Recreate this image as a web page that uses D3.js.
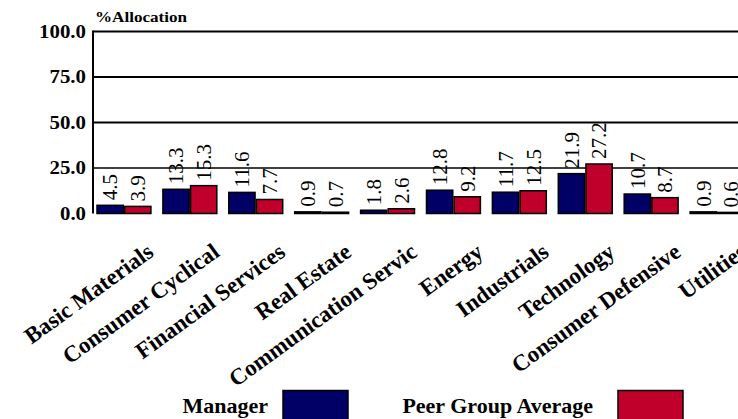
<!DOCTYPE html>
<html>
<head>
<meta charset="utf-8">
<script src="https://cdn.jsdelivr.net/npm/d3@7"></script>
<style>
  html, body { margin: 0; padding: 0; background: #fff; overflow: hidden; }
  svg { display: block; }
  text { font-family: "Liberation Serif", "DejaVu Serif", serif; fill: #000; }
</style>
</head>
<body>
<svg id="chart" width="738" height="419"></svg>
<script>
const categories = ["Basic Materials", "Consumer Cyclical", "Financial Services", "Real Estate",
  "Communication Services", "Energy", "Industrials", "Technology", "Consumer Defensive", "Utilities"];
const managerValues = [4.5, 13.3, 11.6, 0.9, 1.8, 12.8, 11.7, 21.9, 10.7, 0.9];
const peerValues = [3.9, 15.3, 7.7, 0.7, 2.6, 9.2, 12.5, 27.2, 8.7, 0.6];
const yTicks = [0, 25, 50, 75, 100];
const seriesNames = ["Manager", "Peer Group Average"];
const colors = ["#000066", "#c0002a"];

(function () {
const svg = d3.select("#chart");
const plotLeft = 93, plotTop = 31.5, plotBottom = 213.5;

const x0 = d3.scaleBand().domain(categories).range([91, 750]).paddingInner(0.14).paddingOuter(0.07);
const x1 = d3.scaleBand().domain(seriesNames).range([0, x0.bandwidth()]).padding(0.05);
const y = d3.scaleLinear().domain([0, 100]).range([plotBottom, plotTop]);

// gridlines
svg.append("g").selectAll("line").data(yTicks.filter(d => d > 0)).join("line")
  .attr("x1", plotLeft).attr("x2", 738)
  .attr("y1", d => y(d)).attr("y2", d => y(d))
  .attr("stroke", "#000").attr("stroke-width", d => d === 25 ? 1.5 : 2);

// left axis line
svg.append("line").attr("x1", plotLeft).attr("x2", plotLeft).attr("y1", y(100) - 1).attr("y2", plotBottom)
  .attr("stroke", "#000").attr("stroke-width", 2);

// y tick labels (condensed bold)
svg.append("g").selectAll("text").data(yTicks).join("text")
  .attr("x", 86).attr("y", d => y(d)).attr("dy", "0.36em")
  .attr("text-anchor", "end").attr("font-weight", "bold").attr("font-size", 18)
  .attr("textLength", d => {
    const s = d.toFixed(1);
    const digits = s.replace(".", "").length;
    return 10.5 * digits + 5;
  })
  .attr("lengthAdjust", "spacingAndGlyphs")
  .text(d => d.toFixed(1));

// axis title
svg.append("text").attr("x", 95).attr("y", 22).attr("font-weight", "bold").attr("font-size", 14)
  .attr("textLength", 92).attr("lengthAdjust", "spacingAndGlyphs").text("%Allocation");

// bars
const rows = categories.map((c, i) => ({ c, vals: [managerValues[i], peerValues[i]] }));
const groups = svg.append("g").selectAll("g").data(rows).join("g")
  .attr("transform", d => `translate(${x0(d.c)},0)`);

groups.selectAll("rect").data(d => d.vals.map((v, j) => ({ v, s: seriesNames[j], j }))).join("rect")
  .attr("x", d => x1(d.s)).attr("width", x1.bandwidth())
  .attr("y", d => y(d.v)).attr("height", d => plotBottom - y(d.v))
  .attr("fill", d => colors[d.j]).attr("stroke", "#000").attr("stroke-width", 1.5);

groups.selectAll("text.val").data(d => d.vals.map((v, j) => ({ v, s: seriesNames[j], j }))).join("text")
  .attr("class", "val")
  .attr("transform", d => `translate(${x1(d.s) + x1.bandwidth() / 2},${y(d.v) - 5}) rotate(-90)`)
  .attr("dy", "0.35em").attr("font-size", 21)
  .text(d => d.v.toFixed(1));

// category labels
svg.append("g").selectAll("text").data(categories).join("text")
  .attr("transform", d => `translate(${x0(d) + x0.bandwidth() / 2 + 31},255) rotate(-36)`)
  .attr("text-anchor", "end").attr("font-size", 23).attr("font-weight", "bold")
  .text(d => d.length > 20 ? d.slice(0, 20) : d);

// legend
const legendItems = [
  { name: seriesNames[0], tx: 268, rx: 283, color: colors[0] },
  { name: seriesNames[1], tx: 593, rx: 618, color: colors[1] }
];
const lg = svg.append("g").selectAll("g").data(legendItems).join("g");
lg.append("text").attr("x", d => d.tx).attr("y", 413).attr("text-anchor", "end")
  .attr("font-weight", "bold").attr("font-size", 22).text(d => d.name);
lg.append("rect").attr("x", d => d.rx).attr("y", 390.5).attr("width", 65).attr("height", 40)
  .attr("fill", d => d.color).attr("stroke", "#000").attr("stroke-width", 1.5);
})();
</script>
</body>
</html>
